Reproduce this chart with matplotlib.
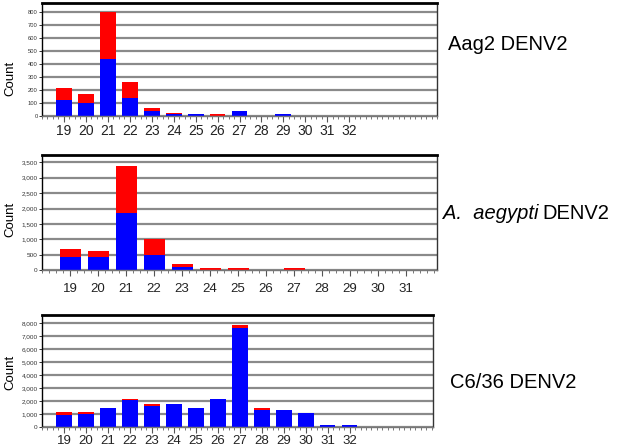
import matplotlib
matplotlib.use("Agg")
import matplotlib.pyplot as plt
from matplotlib.ticker import MultipleLocator, StrMethodFormatter

plt.rcParams['font.family'] = ['Liberation Sans', 'DejaVu Sans']

# Panel 1: Aag2 DENV2
len1 = list(range(19, 33))
blue1 = [124, 103, 439, 142, 40, 15, 15, 0, 35, 0, 15, 0, 0, 0]
red1 = [90, 65, 361, 124, 20, 10, 0, 15, 0, 0, 0, 0, 0, 0]

# Panel 2: A. aegypti DENV2
len2 = list(range(19, 32))
blue2 = [412, 412, 1844, 477, 110, 0, 0, 0, 0, 0, 0, 0, 0]
red2 = [260, 217, 1551, 532, 96, 60, 60, 0, 60, 0, 0, 0, 0]

# Panel 3: C6/36 DENV2
len3 = list(range(19, 33))
blue3 = [897, 1026, 1487, 2051, 1641, 1769, 1487, 2154, 7641, 1282, 1308, 1103, 180, 180]
red3 = [231, 128, 0, 128, 154, 0, 0, 0, 256, 154, 0, 0, 0, 0]

fig = plt.figure(figsize=(6.17, 4.48), dpi=100)

W, H = 617, 448
def rect(l, r, t, b):
    return [l / W, 1 - b / H, (r - l) / W, (b - t) / H]

panels = [
    dict(rect=rect(42, 437, 3, 116), x=len1, blue=blue1, red=red1, xlim=(18.0, 36.0),
         ylim=(0, 873), ystep=100, ytick_fs=4.2, xtick_fs=10, xpad=1.5, bw=0.72,
         cy=0.33),
    dict(rect=rect(42, 437, 155, 270), x=len2, blue=blue2, red=red2, xlim=(18.0, 32.1),
         ylim=(0, 3740), ystep=500, ytick_fs=4.6, xtick_fs=9.5, xpad=5.5, bw=0.75,
         cy=0.44),
    dict(rect=rect(42, 433, 315, 427), x=len3, blue=blue3, red=red3, xlim=(18.0, 35.8),
         ylim=(0, 8640), ystep=1000, ytick_fs=4.6, xtick_fs=9.5, xpad=2.0, bw=0.72,
         cy=0.49),
]

for p in panels:
    ax = fig.add_axes(p['rect'])
    ax.set_axisbelow(True)
    ax.bar(p['x'], p['blue'], width=p['bw'], color='#0000FF', linewidth=0)
    ax.bar(p['x'], p['red'], width=p['bw'], bottom=p['blue'], color='#FF0000', linewidth=0)
    ax.set_xlim(*p['xlim'])
    ax.set_ylim(*p['ylim'])
    ax.yaxis.set_major_locator(MultipleLocator(p['ystep']))
    ax.yaxis.set_major_formatter(StrMethodFormatter('{x:,.0f}'))
    ax.grid(axis='y', color='#8a8a8a', linewidth=1.6)
    ax.set_xticks(p['x'])
    ax.set_xticklabels([str(v) for v in p['x']])
    ax.xaxis.set_minor_locator(MultipleLocator(0.25))
    ax.tick_params(axis='x', which='major', length=4, width=0.8, color='#555555',
                   labelsize=p['xtick_fs'], pad=p['xpad'], labelcolor='#222222')
    ax.tick_params(axis='x', which='minor', length=2, width=0.7, color='#777777')
    ax.tick_params(axis='y', which='major', length=2, width=0.7, labelsize=p['ytick_fs'],
                   pad=1, colors='#333333')
    ax.spines['top'].set_linewidth(2.0)
    ax.spines['top'].set_color('black')
    ax.spines['left'].set_linewidth(1.0)
    ax.spines['left'].set_color('black')
    ax.spines['right'].set_linewidth(1.0)
    ax.spines['right'].set_color('#333333')
    ax.spines['bottom'].set_linewidth(1.0)
    ax.spines['bottom'].set_color('#777777')
    ax.set_ylabel('Count', fontsize=9.5)
    axw = p['rect'][2] * W
    ax.yaxis.set_label_coords((16 - 42) / axw, p['cy'])

fs_title = 14.5
fig.text(448 / W, 1 - 44 / H, "Aag2 DENV2", fontsize=fs_title, va='center', ha='left')
fig.text(450 / W, 1 - 382 / H, "C6/36 DENV2", fontsize=fs_title, va='center', ha='left')

# Panel 2 title with italic species name
t1 = fig.text(443 / W, 1 - 213 / H, "A.  aegypti", fontsize=fs_title, style='italic',
              va='center', ha='left')
renderer = fig.canvas.get_renderer()
bb = t1.get_window_extent(renderer=renderer)
fig.text((bb.x1 + 4) / W, 1 - 213 / H, "DENV2", fontsize=fs_title, va='center', ha='left')

fig.savefig('out.png', dpi=100)
